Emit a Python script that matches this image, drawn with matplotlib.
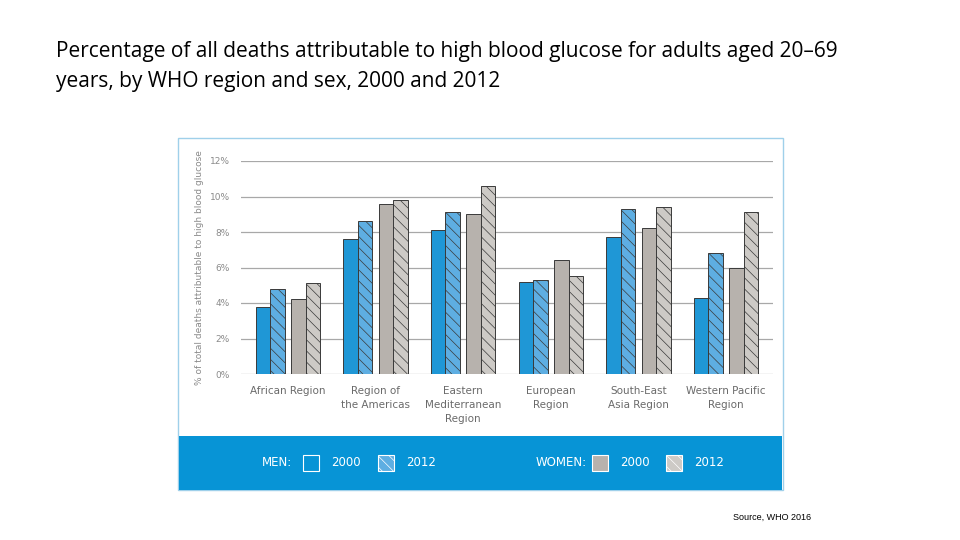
import matplotlib
matplotlib.use("Agg")
import matplotlib.pyplot as plt
from matplotlib.patches import Rectangle
import numpy as np

regions = ["African Region", "Region of\nthe Americas", "Eastern\nMediterranean\nRegion",
           "European\nRegion", "South-East\nAsia Region", "Western Pacific\nRegion"]
men_2000 = [3.8, 7.6, 8.1, 5.2, 7.7, 4.3]
men_2012 = [4.8, 8.6, 9.1, 5.3, 9.3, 6.8]
women_2000 = [4.2, 9.6, 9.0, 6.4, 8.2, 6.0]
women_2012 = [5.1, 9.8, 10.6, 5.5, 9.4, 9.1]
yticks = [0, 2, 4, 6, 8, 10, 12]

BLUE = "#1f97d6"
BLUE_L = "#5eaee2"
GREY = "#b7b2ad"
GREY_L = "#cdcac6"
BAND = "#0794d6"
EDGE = "#3a3a3a"
HATCH = "\\\\\\"

plt.rcParams["hatch.linewidth"] = 0.5

fig = plt.figure(figsize=(9.6, 5.4), dpi=100)
W, H = 960, 540


def fx(px):
    return px / W


def fy(py):
    return 1 - py / H


# title + source
fig.text(fx(56), fy(52), "Percentage of all deaths attributable to high blood glucose for adults aged 20\u201369",
         fontsize=15, family="Open Sans", va="center", ha="left")
fig.text(fx(56), fy(82), "years, by WHO region and sex, 2000 and 2012",
         fontsize=15, family="Open Sans", va="center", ha="left")
fig.text(fx(733), fy(517), "Source, WHO 2016", fontsize=6.5, family="Liberation Sans",
         va="center", ha="left")

# panel border
fig.patches.append(Rectangle((fx(178), fy(490)), fx(605), 352 / H, transform=fig.transFigure,
                             facecolor="white", edgecolor="#9fd0ea", lw=1.0, zorder=-5))

# main axes
ax = fig.add_axes([fx(241), fy(374), 532 / W, 213 / H])
ax.patch.set_alpha(0)
x = np.arange(len(regions))
bw = 0.165
ax.bar(x - 0.285, men_2000, bw, color=BLUE, edgecolor=EDGE, lw=0.7, zorder=3)
ax.bar(x - 0.12, men_2012, bw, color=BLUE_L, edgecolor=EDGE, lw=0.7, hatch=HATCH, zorder=3)
ax.bar(x + 0.12, women_2000, bw, color=GREY, edgecolor=EDGE, lw=0.7, zorder=3)
ax.bar(x + 0.285, women_2012, bw, color=GREY_L, edgecolor=EDGE, lw=0.7, hatch=HATCH, zorder=3)

ax.set_xlim(-0.536, 5.536)
ax.set_ylim(0, 12)
ax.set_yticks(yticks)
ax.set_yticklabels([f"{v}%" for v in yticks], fontsize=6.5, color="#8a8a8a")
ax.set_xticks(x)
ax.set_xticklabels(regions, fontsize=7.5, color="#6a6a6a", va="top", linespacing=1.45)
ax.tick_params(length=0, axis="y", pad=8)
ax.tick_params(length=0, axis="x", pad=9)
ax.grid(axis="y", color="#a8a8a8", lw=0.9, zorder=0)
for s in ax.spines.values():
    s.set_visible(False)
ax.set_ylabel("% of total deaths attributable to high blood glucose", fontsize=6.5,
              color="#8a8a8a", labelpad=4)

# legend band
band = fig.add_axes([fx(179), fy(490), 603 / W, 54 / H])
band.set_facecolor(BAND)
band.set_xlim(179, 782)
band.set_ylim(490, 436)
band.set_xticks([])
band.set_yticks([])
for s in band.spines.values():
    s.set_visible(False)

leg_font = dict(family="DejaVu Sans", color="white",
                fontsize=8.5, va="center", ha="left")
band.text(262, 463, "MEN:", **leg_font)
band.text(536, 463, "WOMEN:", **leg_font)
items = [(303, BAND, None, "2000"), (378, BLUE_L, HATCH, "2012"),
         (592, GREY, None, "2000"), (666, GREY_L, HATCH, "2012")]
for bx, col, hat, lab in items:
    band.add_patch(Rectangle((bx, 455), 16, 16, facecolor=col, edgecolor="white",
                             lw=0.8, hatch=hat))
    band.text(bx + 28, 463, lab, **leg_font)

fig.savefig("out.png", dpi=100)
